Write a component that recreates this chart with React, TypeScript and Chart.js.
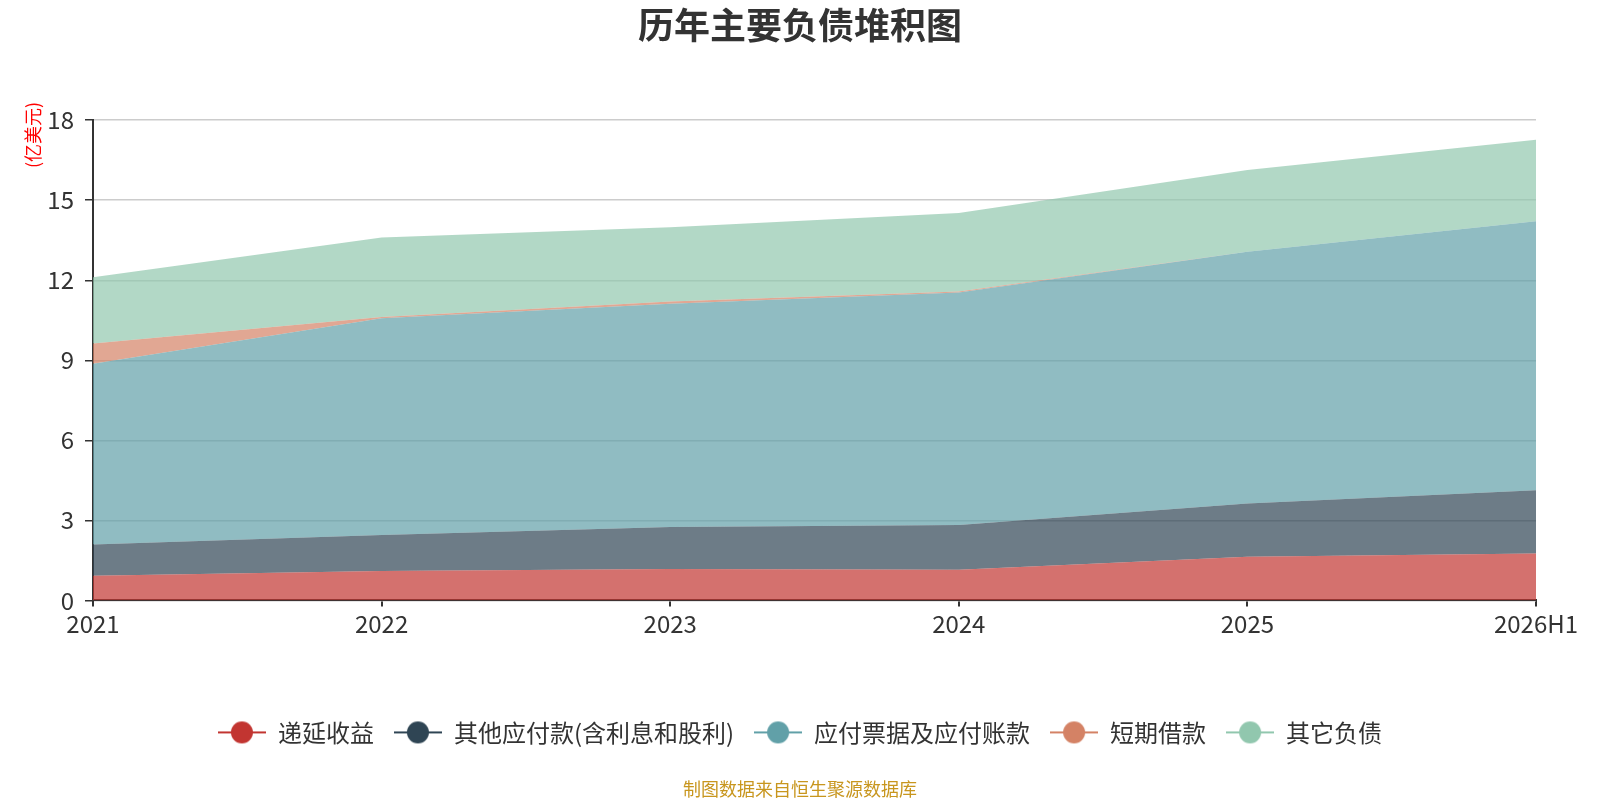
import { useEffect, useRef } from 'react'
import { Chart, registerables } from 'chart.js'

Chart.register(...registerables)

const years = ['2021', '2022', '2023', '2024', '2025', '2026H1']
const deferredIncome = [0.92, 1.1, 1.18, 1.15, 1.64, 1.76]
const otherPayables = [1.18, 1.35, 1.57, 1.68, 1.99, 2.37]
const billsPayable = [6.77, 8.13, 8.37, 8.71, 9.44, 10.08]
const shortLoans = [0.76, 0.04, 0.08, 0.04, 0, 0]
const otherLiabilities = [2.48, 2.98, 2.79, 2.94, 3.06, 3.06]
const seriesNames = ['递延收益', '其他应付款(含利息和股利)', '应付票据及应付账款', '短期借款', '其它负债']
const colors = ['#c23531', '#2f4554', '#61a0a8', '#d48265', '#91c7ae']

const FONT = '"Noto Sans CJK SC", "Noto Sans", sans-serif'

function rgba(hex: string, a: number) {
  const n = parseInt(hex.slice(1), 16)
  return `rgba(${(n >> 16) & 255}, ${(n >> 8) & 255}, ${n & 255}, ${a})`
}

// legend marker: a short line with a circle in the middle
function makeMarker(color: string) {
  const c = document.createElement('canvas')
  c.width = 48
  c.height = 24
  const ctx = c.getContext('2d')!
  ctx.strokeStyle = color
  ctx.lineWidth = 2
  ctx.beginPath()
  ctx.moveTo(0, 12)
  ctx.lineTo(48, 12)
  ctx.stroke()
  ctx.fillStyle = color
  ctx.beginPath()
  ctx.arc(24, 12, 11, 0, Math.PI * 2)
  ctx.fill()
  return c
}

const unitLabel = {
  id: 'unitLabel',
  afterDraw(chart: Chart) {
    const ctx = chart.ctx
    ctx.save()
    ctx.translate(33, 135)
    ctx.rotate(-Math.PI / 2)
    ctx.fillStyle = '#ff0000'
    ctx.font = `18px ${FONT}`
    ctx.textAlign = 'center'
    ctx.textBaseline = 'middle'
    ctx.fillText('(亿美元)', 0, 0)
    ctx.restore()
  },
}

export default function App() {
  const chartRef = useRef<HTMLCanvasElement>(null)
  const chartInstance = useRef<Chart | null>(null)

  useEffect(() => {
    if (!chartRef.current) return
    if (chartInstance.current) chartInstance.current.destroy()
    const ctx = chartRef.current.getContext('2d')
    if (!ctx) return

    const values = [deferredIncome, otherPayables, billsPayable, shortLoans, otherLiabilities]
    const markers = colors.map(makeMarker)

    chartInstance.current = new Chart(ctx, {
      type: 'line',
      data: {
        labels: years,
        datasets: values.map((v, i) => ({
          label: seriesNames[i],
          data: v,
          backgroundColor: rgba(colors[i], 0.7),
          borderColor: colors[i],
          borderWidth: 0,
          pointRadius: 0,
          fill: i === 0 ? 'origin' : '-1',
          tension: 0,
        })),
      },
      options: {
        responsive: true,
        maintainAspectRatio: false,
        animation: false,
        layout: { padding: 0 },
        plugins: {
          title: {
            display: true,
            text: '历年主要负债堆积图',
            color: '#333',
            font: { family: FONT, size: 36, weight: 'bold' },
            padding: { top: 4, bottom: 73 },
          },
          subtitle: {
            display: true,
            position: 'bottom',
            text: '制图数据来自恒生聚源数据库',
            color: '#c8961e',
            font: { family: FONT, size: 18 },
            padding: { top: 24, bottom: 0 },
          },
          legend: {
            position: 'bottom',
            labels: {
              font: { family: FONT, size: 24 },
              color: '#333',
              usePointStyle: true,
              pointStyleWidth: 48,
              boxHeight: 24,
              padding: 20,
              generateLabels: (chart: Chart) =>
                chart.data.datasets.map((ds, i) => ({
                  text: ds.label as string,
                  pointStyle: markers[i],
                  fillStyle: colors[i],
                  strokeStyle: colors[i],
                  lineWidth: 0,
                  fontColor: '#333',
                  datasetIndex: i,
                  hidden: false,
                })),
            },
          },
          tooltip: { enabled: false },
        },
        scales: {
          x: {
            offset: false,
            grid: { drawOnChartArea: false, tickLength: 6, tickColor: '#333', lineWidth: 2 },
            border: { color: '#333', width: 2 },
            ticks: { color: '#333', font: { family: FONT, size: 24 }, padding: 3, maxRotation: 0, autoSkip: false },
            afterFit: (scale: any) => { scale.height = 100 },
          },
          y: {
            stacked: true,
            min: 0,
            max: 18,
            grid: { color: '#cccccc', lineWidth: 1.5, tickLength: 8, tickColor: '#333' },
            border: { color: '#333', width: 2 },
            ticks: { stepSize: 3, color: '#333', font: { family: FONT, size: 24 }, padding: 11 },
            afterFit: (scale: any) => { scale.width = 93 },
          },
          // empty right-hand spacer so the plot ends where the reference does
          spacer: {
            type: 'linear',
            position: 'right',
            display: true,
            grid: { display: false },
            border: { display: false },
            ticks: { display: false },
            afterFit: (scale: any) => { scale.width = 64 },
          },
        },
      },
      plugins: [unitLabel],
    })

    return () => {
      if (chartInstance.current) {
        chartInstance.current.destroy()
        chartInstance.current = null
      }
    }
  }, [])

  return (
    <div style={{ position: 'fixed', left: 0, top: 0, width: 1600, height: 800, background: '#fff' }}>
      <canvas ref={chartRef} />
    </div>
  )
}
